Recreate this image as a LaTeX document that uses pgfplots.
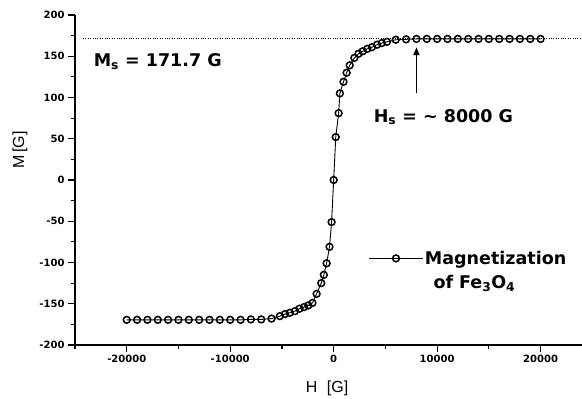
\documentclass[border=0pt]{standalone}
\usepackage{fontspec}
\setmainfont{Liberation Sans}
\newfontfamily\dvs{DejaVu Sans}
\usepackage{pgfplots}
\usepackage{pgfplotstable}
\pgfplotsset{compat=1.18}
\usetikzlibrary{arrows.meta}

\pgfplotstableread{
H M
-20000 -169.5
-19000 -169.5
-18000 -169.5
-17000 -169.5
-16000 -169.5
-15000 -169.5
-14000 -169.5
-13000 -169.5
-12000 -169.5
-11000 -169.5
-10000 -169.5
-9000 -169.5
-8000 -169
-7000 -169
-6000 -168
-5200 -165
-4700 -162.5
-4250 -161
-3750 -159
-3300 -156
-2850 -154
-2450 -152
-2050 -149
-1650 -138
-1200 -125
-950 -115
-680 -101
-400 -81
-200 -51
0 0
200 52
480 81
600 105
950 119
1250 130
1550 139
2000 148
2400 153
2800 156
3250 159
3700 161
4200 164
4650 166
5150 167.5
6000 170
7000 170.5
8000 171
9000 171
10000 171
11000 171
12000 171
13000 171
14000 171
15000 171
16000 171
17000 171
18000 171
19000 171
20000 171
}\magdata

\begin{document}
\begin{tikzpicture}
\path[use as bounding box] (0,0) rectangle (582pt,399pt);
\begin{axis}[
  at={(75pt,54pt)}, anchor=south west,
  scale only axis, width=507pt, height=330pt,
  xmin=-25000, xmax=24000, ymin=-200, ymax=200,
  axis x line*=bottom, axis y line*=left,
  axis line style={line width=1.5pt, -},
  xtick={-20000,-10000,0,10000,20000},
  minor xtick={-25000,-15000,-5000,5000,15000},
  ytick={-200,-150,...,200},
  minor ytick={-175,-125,...,175},
  xtick pos=bottom, ytick pos=left,
  tick align=outside,
  major tick length=7pt, minor tick length=4pt,
  every tick/.style={black, line width=1.2pt},
  scaled x ticks=false,
  /pgf/number format/1000 sep={},
  /pgf/number format/assume math mode=true,
  ticklabel style={font=\dvs\bfseries\fontsize{10}{11}\selectfont},
  clip=false,
  legend style={at={(axis description cs:0.579,0.2625)}, anchor=west, draw=none, fill=none,
    inner sep=0pt, outer sep=0pt, font=\dvs\bfseries\fontsize{17.5}{20}\selectfont,
    nodes={inner sep=1.5pt}},
  legend image code/.code={\draw[#1, mark repeat=2, mark phase=2] plot coordinates {(0pt,0pt) (27pt,0pt) (54pt,0pt)};},
]
\addplot[black, line width=0.7pt, dash pattern=on 0.8pt off 1.6pt, forget plot]
  coordinates {(-24230,171.7) (24000,171.7)};
\addplot[black, line width=0.9pt, mark=o, mark size=3.4pt,
  mark options={fill=white, line width=1.5pt, solid}] table[x=H, y=M] {\magdata};
\addlegendentry{Magnetization}
\node[anchor=base west, inner sep=0pt, font=\dvs\bfseries\fontsize{17.5}{20}\selectfont]
  at (axis cs:-23200,137) {M\textsubscript{s} = 171.7 G};
\node[anchor=base west, inner sep=0pt, font=\dvs\bfseries\fontsize{17.5}{20}\selectfont]
  at (axis cs:3860,70) {H\textsubscript{s} = \textasciitilde{} 8000 G};
\node[anchor=base, inner sep=0pt, font=\dvs\bfseries\fontsize{17.5}{20}\selectfont]
  at (axis cs:13600,-131) {of Fe\textsubscript{3}O\textsubscript{4}};
\draw[-{Triangle[length=8pt,width=6pt]}, line width=1.8pt] (axis cs:8000,105) -- (axis cs:8000,161);
\end{axis}
\node[font=\fontsize{16}{18}\selectfont, rotate=90] at (20pt,249pt) {M\,[G]};
\node[font=\fontsize{16}{18}\selectfont] at (327pt,11pt) {H\hspace{0.6em}[G]};
\end{tikzpicture}
\end{document}
